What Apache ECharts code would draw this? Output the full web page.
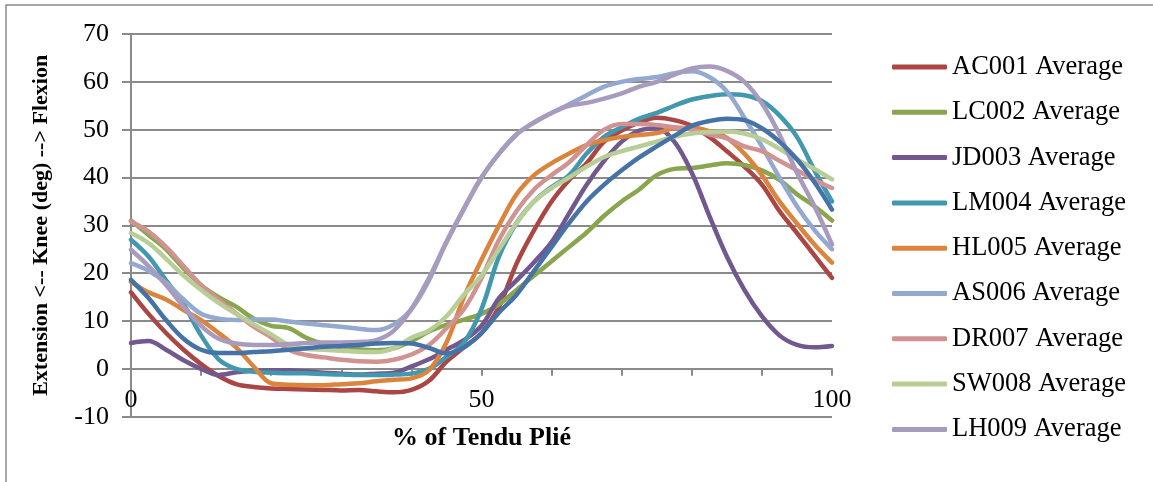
<!DOCTYPE html>
<html>
<head>
<meta charset="utf-8">
<title>Knee angle during Tendu Plié</title>
<script src="https://cdn.jsdelivr.net/npm/echarts@6/dist/echarts.min.js"></script>
<style>
  html, body { margin: 0; padding: 0; background: #fff; }
  #chart { width: 1153px; height: 482px; }
</style>
</head>
<body>
<div id="chart"></div>
<script>
// Percent of the movement cycle at which each subject's averaged knee angle was sampled
const pctTendu = [0, 2.5, 5, 7.5, 10, 12.5, 15, 17.5, 20, 22.5, 25, 27.5, 30, 32.5, 35, 37.5, 40,
  42.5, 45, 47.5, 50, 52.5, 55, 57.5, 60, 62.5, 65, 67.5, 70, 72.5, 75, 77.5, 80, 82.5, 85, 87.5,
  90, 92.5, 95, 97.5, 100];

// Knee angle (deg), flexion positive
const ac001 = [16, 11.5, 7.5, 4, 1, -1.5, -3.2, -3.8, -4.1, -4.2, -4.3, -4.4, -4.5, -4.4, -4.7, -4.9, -4.4,
  -2.5, 1.5, 4.5, 7.5, 13, 22, 29, 35, 39.5, 43, 47.5, 49.8, 51.5, 52.5, 52, 50.8, 48.5, 45.5, 42.3,
  38.5, 33, 28.4, 23.7, 19];
const lc002 = [31, 28, 25, 21, 17.5, 15, 13, 10.5, 9, 8.5, 6.5, 5.2, 4.6, 4.1, 3.9, 4.3, 5.8,
  7.8, 9.2, 10.3, 11.5, 13.5, 16.5, 19.5, 22.5, 25.5, 28.5, 32, 35, 37.5, 40.5, 41.8, 42, 42.5, 43, 42.6,
  41.5, 39.5, 36.5, 34, 31];
const jd003 = [5.4, 5.8, 4, 1.8, 0, -1.3, -0.7, -0.4, -0.3, -0.3, -0.5, -0.8, -1, -1.2, -1, -0.8, 0.5,
  2, 4, 6, 9, 14.8, 18.5, 22.3, 26.5, 32.5, 38.5, 43.5, 47.5, 49.8, 50.3, 47.5, 41, 32, 23.5, 16.5,
  11, 7, 5, 4.5, 4.8];
const lm004 = [27, 23.5, 18.5, 13.5, 7, 2, 0, -0.6, -0.8, -0.9, -0.9, -1.1, -1.2, -1.3, -1.3, -1.2, -1,
  0, 2.5, 5.5, 12.5, 23.5, 30.5, 35, 38, 40.5, 45, 48.5, 50.5, 52.3, 53.5, 55, 56.3, 57, 57.4, 57.2,
  56, 53, 48.5, 41.5, 35];
const hl005 = [18.2, 16, 14.5, 12.3, 10.2, 7.5, 4.5, 0.5, -3, -3.3, -3.4, -3.4, -3.2, -3, -2.6, -2.3, -2,
  -0.3, 5.5, 15, 22.8, 30, 36.5, 40.5, 43, 45, 46.8, 47.8, 48.5, 48.9, 49.3, 50.3, 50.4, 49.7, 48.3, 45,
  40.5, 35, 30.4, 26, 22.2];
const as006 = [22.1, 20.5, 18, 14.5, 11.5, 10.5, 10.2, 10.3, 10.3, 9.9, 9.5, 9.1, 8.8, 8.4, 8.1, 9.3, 12.5,
  18.5, 26.5, 33.5, 40, 45, 49, 51.5, 53.5, 55.3, 57.2, 59, 60, 60.6, 61, 61.8, 62.2, 61, 58, 52.5,
  46.5, 40, 34, 29, 25];
const dr007 = [30.8, 28.7, 25.5, 21.5, 17.5, 14.5, 11.6, 8.8, 6.6, 4, 2.9, 2.4, 1.9, 1.6, 1.5, 1.9, 3,
  5, 8.5, 12.5, 19, 27, 33, 37.5, 40.5, 43.2, 46.8, 50, 51.2, 51.2, 51, 50.5, 50, 49, 48.2, 46.5,
  45.5, 43.5, 41.5, 39.5, 37.8];
const sw008 = [28.4, 26.3, 23, 19.5, 16.5, 13.8, 11.5, 9.3, 7.2, 5, 4.2, 4, 3.8, 3.6, 3.5, 4.3, 6.5,
  8, 11, 15.5, 19.5, 25, 30.5, 35, 37.8, 40, 42.3, 44.3, 45.5, 46.5, 47.5, 48.5, 49.2, 49.5, 49.6, 49.2,
  48, 46, 43.8, 41.8, 39.6];
const lh009 = [24.9, 21.5, 17.5, 13, 9, 6.3, 5.3, 5, 5, 5.2, 5.4, 5.5, 5.5, 5.6, 6, 8, 12.5,
  19, 26.5, 33.5, 40, 45, 49, 51.5, 53.5, 55, 55.6, 56.5, 57.6, 59, 60, 61.5, 62.8, 63.2, 62.3, 60,
  55.5, 49, 41, 34, 26];
const groupAverage = [18.6, 14.8, 10.2, 6.3, 4, 3.3, 3.3, 3.5, 3.7, 4, 4.3, 4.6, 4.8, 5, 5.3, 5.4, 5.3,
  4.4, 3.2, 4.5, 7.5, 11.8, 15.5, 20.5, 25.5, 30.5, 35, 38.5, 41.5, 44.2, 46.5, 48.7, 50.8, 51.8, 52.3, 52,
  50.3, 47.5, 43.8, 39, 33.3];

const subjectNames = ['AC001 Average', 'LC002 Average', 'JD003 Average', 'LM004 Average', 'HL005 Average',
  'AS006 Average', 'DR007 Average', 'SW008 Average', 'LH009 Average'];
const subjectValues = [ac001, lc002, jd003, lm004, hl005, as006, dr007, sw008, lh009];
const subjectColors = ['#AA4643', '#89A54E', '#71588F', '#4198AF', '#DB843D', '#93A9CF', '#D19392', '#B9CD96', '#A99BBD'];

const yMin = -10, yMax = 70;
const serif = '"Liberation Serif", "Times New Roman", "DejaVu Serif", serif';
const gridGray = '#8a8a8a';

// Plot box in pixels
const W = 1153, H = 482;
const plotLeft = 131, plotRight = 832, plotTop = 34, plotBottom = 416.7;
// The horizontal axis crosses the value axis at 0 deg
const zeroOffset = -(0 - yMin) / (yMax - yMin) * (plotBottom - plotTop);

function makeLine(name, values, color) {
  return {
    name: name,
    type: 'line',
    data: pctTendu.map((x, i) => [x, values[i]]),
    smooth: 0.35,
    showSymbol: false,
    symbol: 'none',
    color: color,
    lineStyle: { width: 4.5, color: color, cap: 'round', join: 'round' },
    emphasis: { disabled: true },
    z: 2
  };
}

const series = subjectNames.map((n, i) => makeLine(n, subjectValues[i], subjectColors[i]));
series.push(makeLine('Group Average', groupAverage, '#4572A7'));

const chart = echarts.init(document.getElementById('chart'), null, { renderer: 'canvas' });
chart.setOption({
  animation: false,
  backgroundColor: '#ffffff',
  grid: {
    left: plotLeft, right: W - plotRight, top: plotTop, bottom: H - plotBottom,
    containLabel: false, outerBoundsMode: 'none'
  },
  legend: {
    data: subjectNames,
    orient: 'vertical',
    left: 887,
    top: 48,
    padding: 5,
    icon: 'roundRect',
    itemWidth: 55,
    itemHeight: 5,
    itemGap: 17.3,
    textStyle: { fontFamily: serif, fontSize: 26.5, color: '#000', lineHeight: 28 },
    selectedMode: false
  },
  xAxis: {
    type: 'value',
    position: 'bottom',
    offset: zeroOffset,
    min: 0,
    max: 100,
    interval: 10,
    axisLine: { show: true, onZero: false, lineStyle: { color: gridGray, width: 2 } },
    axisTick: { show: true, inside: false, length: 7, lineStyle: { color: gridGray, width: 2 } },
    axisLabel: {
      margin: 18,
      fontFamily: serif,
      fontSize: 26,
      color: '#000',
      formatter: v => (v % 50 === 0 ? String(v) : '')
    },
    splitLine: { show: false },
    name: '% of Tendu Plié',
    nameLocation: 'middle',
    nameGap: 56,
    nameTextStyle: { fontFamily: serif, fontSize: 26, fontWeight: 'bold', color: '#000' }
  },
  yAxis: {
    type: 'value',
    min: yMin,
    max: yMax,
    interval: 10,
    axisLine: { show: true, onZero: false, lineStyle: { color: gridGray, width: 2 } },
    axisTick: { show: true, inside: false, length: 9, lineStyle: { color: gridGray, width: 2 } },
    axisLabel: { margin: 22, fontFamily: serif, fontSize: 26, color: '#000' },
    splitLine: { show: true, lineStyle: { color: gridGray, width: 2 } },
    name: 'Extension <-- Knee (deg) --> Flexion',
    nameLocation: 'middle',
    nameRotate: 90,
    nameGap: 79,
    nameTextStyle: { fontFamily: serif, fontSize: 22, fontWeight: 'bold', color: '#000' }
  },
  graphic: [{
    type: 'rect',
    shape: { x: 6, y: 5, width: 1160, height: 490 },
    style: { fill: 'none', stroke: gridGray, lineWidth: 1.5 },
    silent: true,
    z: -1
  }],
  series: series
});
</script>
</body>
</html>
